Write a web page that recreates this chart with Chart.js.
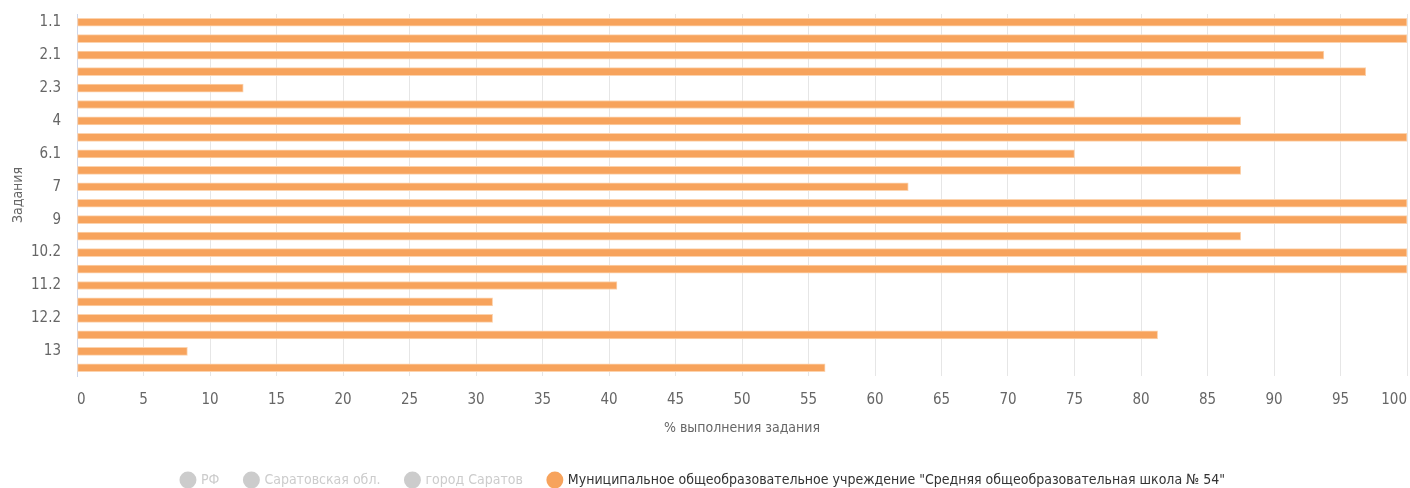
<!DOCTYPE html>
<html><head><meta charset="utf-8">
<script src="https://cdn.jsdelivr.net/npm/chart.js@4"></script>
<style>html,body{margin:0;padding:0;background:#fff} #wrap{width:1410px;height:488px;position:relative}</style>
</head><body><div id="wrap"><canvas id="c"></canvas></div>
<script>
const categories = ['1.1','1.2','2.1','2.2','2.3','3','4','5','6.1','6.2','7','8','9','10.1','10.2','11.1','11.2','12.1','12.2','12.3','13','14'];
const seriesNames = ['РФ','Саратовская обл.','город Саратов','Муниципальное общеобразовательное учреждение "Средняя общеобразовательная школа № 54"'];
const rfValues = [];
const oblValues = [];
const cityValues = [];
const schoolValues = [100,100,93.75,96.9,12.5,75,87.5,100,75,87.5,62.5,100,100,87.5,100,100,40.6,31.25,31.25,81.25,8.3,56.25];
const xTickStep = 5;
const xMax = 100;
const xTitle = '% выполнения задания';
const yTitle = 'Задания';

const FONT = "'DejaVu Sans Condensed','Liberation Sans Narrow',sans-serif";

const chart = new Chart(document.getElementById('c'), {
  type: 'bar',
  data: {
    labels: categories,
    datasets: [
      {label: seriesNames[0], data: rfValues, hidden: true, backgroundColor: '#7cb5ec'},
      {label: seriesNames[1], data: oblValues, hidden: true, backgroundColor: '#434348'},
      {label: seriesNames[2], data: cityValues, hidden: true, backgroundColor: '#90ed7d'},
      {label: seriesNames[3], data: schoolValues, backgroundColor: '#f7a35c', borderColor: '#fcd3ae', borderWidth: 1, borderSkipped: false, barThickness: 8}
    ]
  },
  options: {
    indexAxis: 'y',
    responsive: true,
    maintainAspectRatio: false,
    animation: false,
    layout: {padding: {top: 14, right: 3, left: 0, bottom: -9}},
    scales: {
      x: {
        min: 0, max: xMax,
        ticks: {stepSize: xTickStep, color: '#666', font: {family: FONT, size: 15}, padding: 15, maxRotation: 0, align: 'inner'},
        grid: {color: '#e6e6e6', lineWidth: 1, drawTicks: false},
        border: {display: false},
        title: {display: true, text: xTitle, color: '#666', font: {family: FONT, size: 14}, padding: {top: 12, bottom: 10}},
        afterFit: s => { s.height = 71; s.paddingLeft = 0; s.paddingRight = 0; }
      },
      y: {
        ticks: {
          autoSkip: false, color: '#666', font: {family: FONT, size: 15}, padding: 16,
          callback: function(v, i) { return i % 2 === 0 ? this.getLabelForValue(v) : ''; }
        },
        grid: {display: false, drawTicks: false},
        border: {display: true, color: '#ccd6eb', width: 1},
        title: {display: true, text: yTitle, color: '#666', font: {family: FONT, size: 14}, padding: {top: 10, bottom: 0}},
        afterFit: s => { s.width = 77; s.paddingTop = 0; s.paddingBottom = 0; }
      }
    },
    plugins: {
      tooltip: {enabled: false},
      legend: {
        position: 'bottom',
        onClick: null,
        labels: {
          usePointStyle: true, pointStyle: 'circle', boxHeight: 12, boxWidth: 12, padding: 26,
          font: {family: FONT, size: 14}, color: '#333',
          generateLabels: function(ch) {
            const items = Chart.defaults.plugins.legend.labels.generateLabels(ch);
            return items.map(it => {
              if (it.hidden) {
                it.fillStyle = '#cccccc'; it.strokeStyle = '#cccccc'; it.fontColor = '#cccccc'; it.hidden = false;
              } else {
                it.fontColor = '#333';
              }
              it.lineWidth = 0;
              return it;
            });
          }
        }
      }
    }
  }
});
</script></body></html>
